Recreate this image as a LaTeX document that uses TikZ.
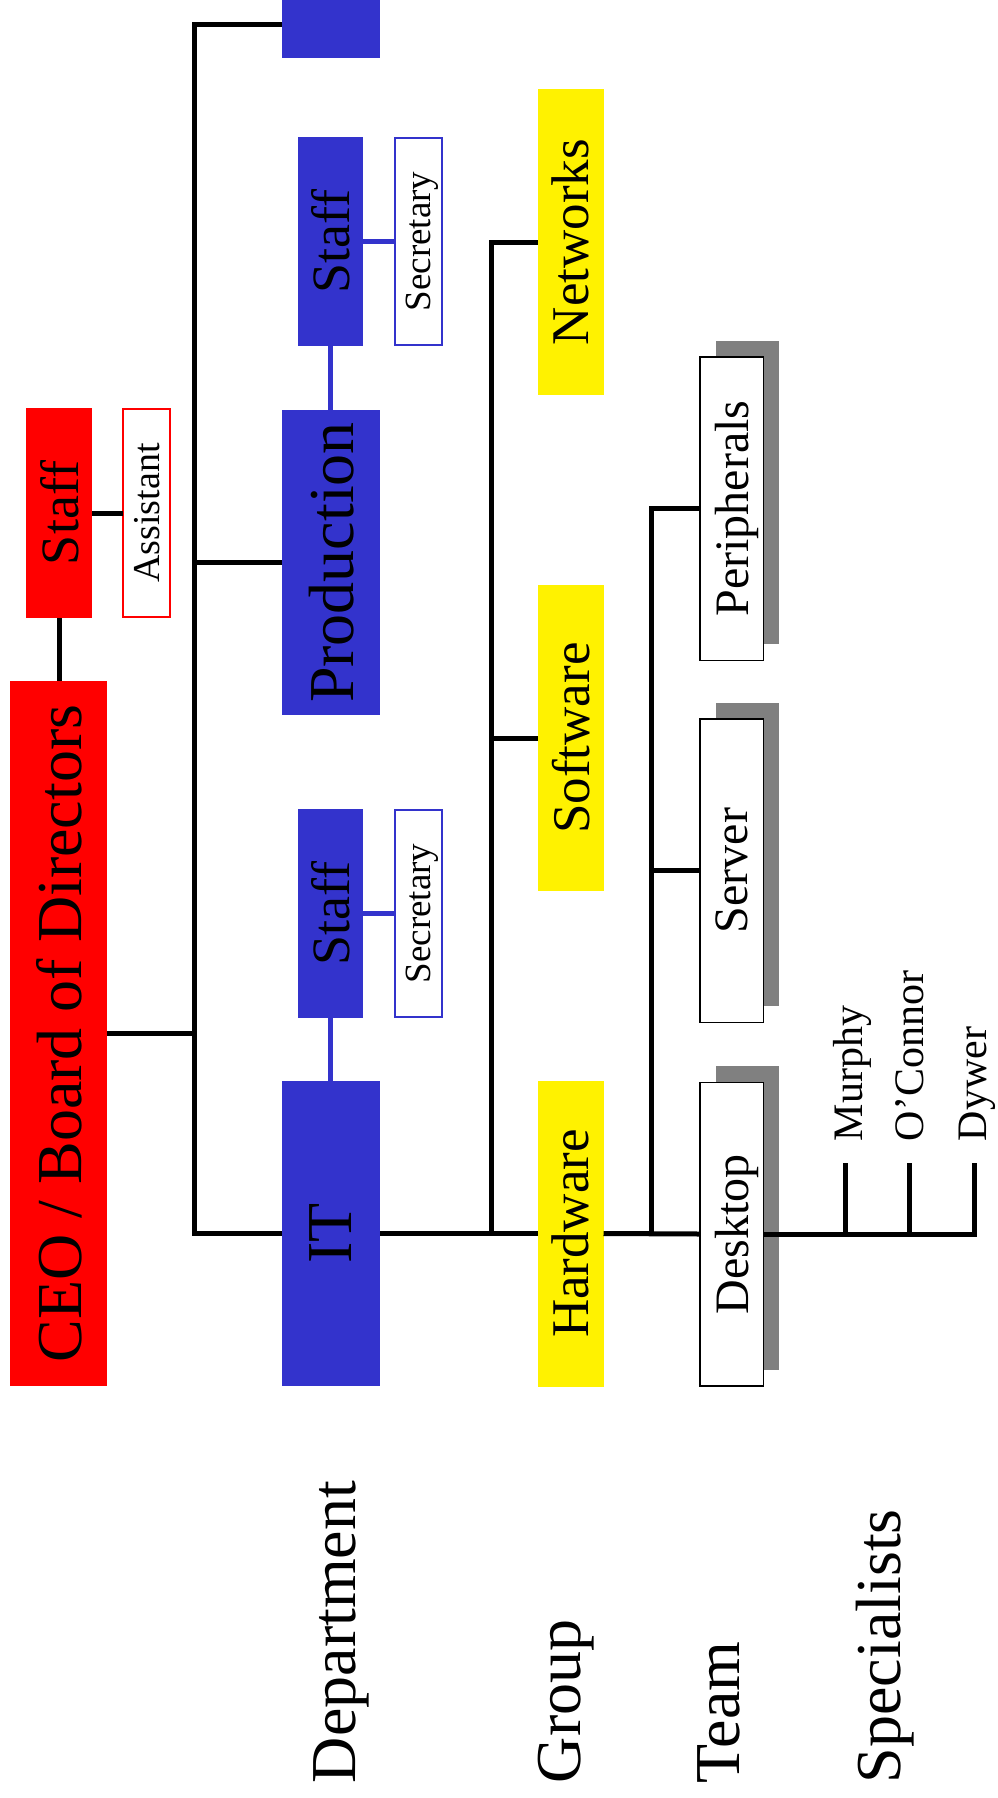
\documentclass[tikz,border=0pt]{standalone}
\usepackage{fontspec}
\setmainfont{Liberation Serif}
\usepackage{graphicx}
\usepackage{tikz}
\usetikzlibrary{positioning,shadows}
\usepackage{xcolor}
\definecolor{deptblue}{RGB}{51,51,204}
\definecolor{shadowgray}{RGB}{128,128,128}
\newcommand{\vtext}[1]{\rotatebox{90}{\raisebox{0pt}[\height][0pt]{#1}}}
\newcommand{\fsz}[1]{\fontsize{#1}{#1}\selectfont}

\begin{document}
\begin{tikzpicture}[
  x=1pt, y=-1pt,
  every node/.style={inner sep=0pt, outer sep=0pt},
  link/.style={draw=black, line width=5pt},
  bluelink/.style={draw=deptblue, line width=5pt},
  ceobox/.style={fill=red, minimum width=97pt, minimum height=705pt, font=\fsz{64}},
  ceostaffbox/.style={fill=red, minimum width=66pt, minimum height=210pt, font=\fsz{54}},
  assistbox/.style={draw=red, line width=1.5pt, fill=white, minimum width=47pt, minimum height=208pt, font=\fsz{38}},
  deptbox/.style={fill=deptblue, minimum width=98pt, minimum height=305pt, font=\fsz{64}},
  staffbox/.style={fill=deptblue, minimum width=65pt, minimum height=209pt, font=\fsz{54}},
  secbox/.style={draw=deptblue, line width=1.5pt, fill=white, minimum width=47pt, minimum height=207pt, font=\fsz{37}},
  groupbox/.style={fill=yellow, minimum width=66pt, minimum height=306pt, font=\fsz{53}},
  teambox/.style={draw=black, line width=1.5pt, fill=white, minimum width=63.5pt, minimum height=303.5pt, font=\fsz{48},
    drop shadow={shadow xshift=16pt, shadow yshift=16pt, fill=shadowgray, opacity=1}},
  specname/.style={anchor=south east, font=\fsz{42}},
  levellabel/.style={anchor=south east, font=\fsz{64}}
]
\useasboundingbox (0,0) rectangle (997,1798);
\clip (0,0) rectangle (997,1798);

\node[ceobox] (ceo) at (58.5,1033.5) {\vtext{CEO / Board of Directors}};
\node[ceostaffbox] (ceostaff) at (59,513) {\vtext{Staff}};
\node[assistbox] (assistant) at (146.5,513) {\vtext{Assistant}};

\node[deptbox, minimum height=66pt] (topdept) at (331,25) {};
\node[deptbox] (prod) at (331,562.5) {\vtext{Production}};
\node[staffbox] (prodstaff) at (330.5,241.5) {\vtext{Staff}};
\node[secbox] (prodsec) at (418.5,241.5) {\vtext{Secretary}};
\node[deptbox] (it) at (331,1233.5) {\vtext{IT}};
\node[staffbox] (itstaff) at (330.5,913.5) {\vtext{Staff}};
\node[secbox] (itsec) at (418.5,913.5) {\vtext{Secretary}};

\node[groupbox] (networks) at (570.5,242) {\vtext{Networks}};
\node[groupbox] (software) at (570.5,738) {\vtext{Software}};
\node[groupbox] (hardware) at (570.5,1233.5) {\vtext{Hardware}};

\node[teambox] (peripherals) at (731.5,508.5) {\vtext{Peripherals}};
\node[teambox] (server) at (731.5,870.5) {\vtext{Server}};
\node[teambox] (desktop) at (731.5,1234) {\vtext{Desktop}};

\coordinate (murphytick) at (845,1163);
\coordinate (oconnortick) at (909,1163);
\coordinate (dywertick) at (974,1163);
\node[specname] (murphy) at (862,1141) {\vtext{Murphy}};
\node[specname] (oconnor) at (923,1141) {\vtext{O'Connor}};
\node[specname] (dywer) at (986,1141) {\vtext{Dywer}};

\node[levellabel] (deptlevel) at (355,1783) {\vtext{Department}};
\node[levellabel] (grouplevel) at (580,1783) {\vtext{Group}};
\node[levellabel] (teamlevel) at (739,1783) {\vtext{Team}};
\node[levellabel] (speclevel) at (900,1783) {\vtext{Specialists}};

\coordinate (depttrunk) at (194,0);
\coordinate (grouptrunk) at (491,0);
\coordinate (teamtrunk) at (651,0);

\draw[link] (ceostaff.south) -- (ceostaff.south |- ceo.north);
\draw[link] (ceostaff.east) -- (assistant.west);
\draw[link] (topdept.west) -| (depttrunk |- it.west) -- (it.west);
\draw[link] (ceo.east) -- (ceo.east -| depttrunk);
\draw[link] (prod.west) -- (prod.west -| depttrunk);
\draw[bluelink] (prodstaff.south) -- (prodstaff.south |- prod.north);
\draw[bluelink] (prodstaff.east) -- (prodsec.west);
\draw[bluelink] (itstaff.south) -- (itstaff.south |- it.north);
\draw[bluelink] (itstaff.east) -- (itsec.west);
\draw[link] (it.east) -- (hardware.west);
\draw[link] (networks.west) -| (grouptrunk |- hardware.west);
\draw[link] (software.west) -- (software.west -| grouptrunk);
\draw[link] (hardware.east) -- (desktop.west);
\draw[link] (peripherals.west) -| (teamtrunk |- desktop.west);
\draw[link] (server.west) -- (server.west -| teamtrunk);
\draw[link] (desktop.east) -| (dywertick);
\draw[link] (murphytick) -- (murphytick |- desktop.east);
\draw[link] (oconnortick) -- (oconnortick |- desktop.east);
\end{tikzpicture}
\end{document}
